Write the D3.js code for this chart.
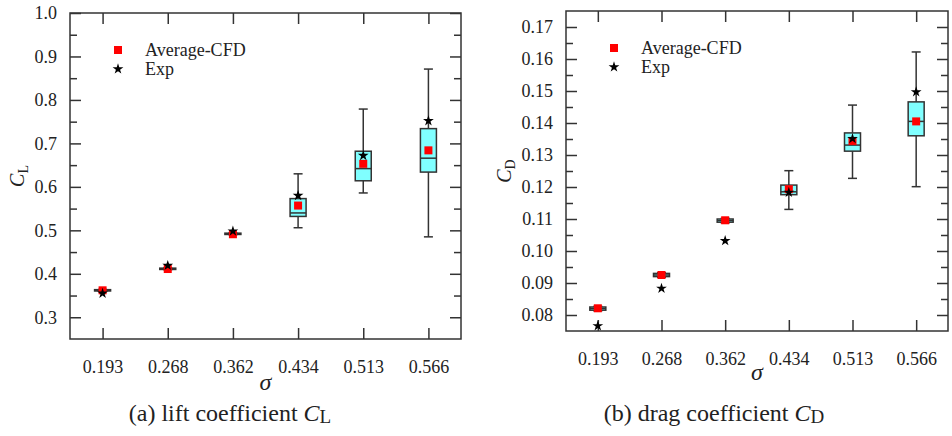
<!DOCTYPE html>
<html>
<head>
<meta charset="utf-8">
<script src="https://cdn.jsdelivr.net/npm/d3@7"></script>
<style>
  body { margin: 0; background: #fff; }
  svg text { font-family: "Liberation Serif", "Times New Roman", Times, serif; fill: #222; }
</style>
</head>
<body>
<div id="chart"></div>
<script>
// cavitation numbers on x
const sigmaLabels = ['0.193', '0.268', '0.362', '0.434', '0.513', '0.566'];

// lift coefficient box stats
const clLow  = [0.3600, 0.4095, 0.4900, 0.506, 0.586, 0.485];
const clQ1   = [0.3605, 0.4100, 0.4905, 0.532, 0.614, 0.634];
const clMed  = [0.3620, 0.4115, 0.4920, 0.540, 0.642, 0.666];
const clQ3   = [0.3635, 0.4130, 0.4935, 0.573, 0.682, 0.734];
const clHigh = [0.3640, 0.4135, 0.4940, 0.630, 0.779, 0.871];
const clAvg  = [0.362, 0.411, 0.491, 0.557, 0.653, 0.684];
const clExp  = [0.355, 0.419, 0.498, 0.580, 0.672, 0.752];

// drag coefficient box stats
const cdLow  = [0.0813, 0.0918, 0.1088, 0.1130, 0.1227, 0.1201];
const cdQ1   = [0.0815, 0.0920, 0.1090, 0.1176, 0.1312, 0.1360];
const cdMed  = [0.0820, 0.0925, 0.1095, 0.1185, 0.1331, 0.1405];
const cdQ3   = [0.0825, 0.0930, 0.1100, 0.1206, 0.1369, 0.1466];
const cdHigh = [0.0827, 0.0932, 0.1102, 0.1251, 0.1456, 0.1622];
const cdAvg  = [0.0821, 0.0925, 0.1096, 0.1193, 0.1344, 0.1405];
const cdExp  = [0.0766, 0.0883, 0.1032, 0.1183, 0.1351, 0.1497];

const clTicks = [0.3, 0.4, 0.5, 0.6, 0.7, 0.8, 0.9, 1.0];
const clMinor = [0.35, 0.45, 0.55, 0.65, 0.75, 0.85, 0.95];
const cdTicks = [0.08, 0.09, 0.10, 0.11, 0.12, 0.13, 0.14, 0.15, 0.16, 0.17];
const cdMinor = [0.085, 0.095, 0.105, 0.115, 0.125, 0.135, 0.145, 0.155, 0.165];

const serif = '"Liberation Serif", "Times New Roman", Times, serif';

const svg = d3.select('#chart').append('svg')
    .attr('width', 952)
    .attr('height', 436);

function drawPanel(p) {
    const x = d3.scalePoint()
        .domain(sigmaLabels)
        .range([p.left, p.right])
        .padding(0.5);

    const y = d3.scaleLinear()
        .domain(p.domain)
        .range([p.bottom, p.top]);

    const g = svg.append('g');
    const ink = '#333';

    // frame
    g.append('rect')
        .attr('x', p.left).attr('y', p.top)
        .attr('width', p.right - p.left).attr('height', p.bottom - p.top)
        .attr('fill', 'none').attr('stroke', ink).attr('stroke-width', 1.5);

    // y axes (left labelled, right mirror), ticks inward
    const yl = d3.axisLeft(y).tickValues(p.ticks).tickSize(-11).tickPadding(13)
        .tickFormat(p.fmt);
    const yr = d3.axisRight(y).tickValues(p.ticks).tickSize(-11).tickFormat('');
    const ylm = d3.axisLeft(y).tickValues(p.minor).tickSize(-7).tickFormat('');
    const yrm = d3.axisRight(y).tickValues(p.minor).tickSize(-7).tickFormat('');

    g.append('g').attr('transform', `translate(${p.left},0)`).call(yl);
    g.append('g').attr('transform', `translate(${p.left},0)`).call(ylm);
    g.append('g').attr('transform', `translate(${p.right},0)`).call(yr);
    g.append('g').attr('transform', `translate(${p.right},0)`).call(yrm);

    // x axes
    const xb = d3.axisBottom(x).tickSize(-11).tickPadding(21);
    const xt = d3.axisTop(x).tickSize(-11).tickFormat('');
    g.append('g').attr('transform', `translate(0,${p.bottom})`).call(xb);
    g.append('g').attr('transform', `translate(0,${p.top})`).call(xt);

    g.selectAll('.domain').remove();
    g.selectAll('g').attr('font-family', null);
    g.selectAll('.tick line').attr('stroke', ink).attr('stroke-width', 1.5);
    g.selectAll('.tick text')
        .style('font-family', serif)
        .style('font-size', '18px')
        .attr('fill', '#222');

    // boxes
    const rows = sigmaLabels.map((s, i) => ({
        s, low: p.low[i], q1: p.q1[i], med: p.med[i], q3: p.q3[i], high: p.high[i],
        avg: p.avg[i], exp: p.exp[i]
    }));
    const bw = 16, cw = 9;

    const box = g.selectAll('.box').data(rows).enter().append('g').attr('class', 'box');
    box.append('line')
        .attr('x1', d => x(d.s)).attr('x2', d => x(d.s))
        .attr('y1', d => y(d.high)).attr('y2', d => y(d.low))
        .attr('stroke', ink).attr('stroke-width', 1.5);
    box.append('line')
        .attr('x1', d => x(d.s) - cw / 2).attr('x2', d => x(d.s) + cw / 2)
        .attr('y1', d => y(d.high)).attr('y2', d => y(d.high))
        .attr('stroke', ink).attr('stroke-width', 1.5);
    box.append('line')
        .attr('x1', d => x(d.s) - cw / 2).attr('x2', d => x(d.s) + cw / 2)
        .attr('y1', d => y(d.low)).attr('y2', d => y(d.low))
        .attr('stroke', ink).attr('stroke-width', 1.5);
    box.append('rect')
        .attr('x', d => x(d.s) - bw / 2)
        .attr('y', d => y(d.q3))
        .attr('width', bw)
        .attr('height', d => y(d.q1) - y(d.q3))
        .attr('fill', '#80ffff').attr('stroke', ink).attr('stroke-width', 1.5);
    box.append('line')
        .attr('x1', d => x(d.s) - bw / 2).attr('x2', d => x(d.s) + bw / 2)
        .attr('y1', d => y(d.med)).attr('y2', d => y(d.med))
        .attr('stroke', ink).attr('stroke-width', 1.5);

    // averages
    g.selectAll('.avg').data(rows).enter().append('rect')
        .attr('class', 'avg')
        .attr('x', d => x(d.s) - 4).attr('y', d => y(d.avg) - 4)
        .attr('width', 8).attr('height', 8)
        .attr('fill', '#ff0000');

    // experiment
    const star = d3.symbol().type(d3.symbolStar).size(36);
    g.selectAll('.exp').data(rows).enter().append('path')
        .attr('class', 'exp')
        .attr('transform', d => `translate(${x(d.s)},${y(d.exp)})`)
        .attr('d', star)
        .attr('fill', '#000');

    // legend
    const lx = p.left + 48, ly = p.top + 37;
    g.append('rect').attr('x', lx - 4).attr('y', ly - 4).attr('width', 8).attr('height', 8)
        .attr('fill', '#ff0000');
    g.append('path').attr('transform', `translate(${lx},${ly + 19})`).attr('d', star)
        .attr('fill', '#000');
    g.append('text').attr('x', lx + 27).attr('y', ly).attr('dy', '0.35em')
        .style('font-size', '18px').text('Average-CFD');
    g.append('text').attr('x', lx + 27).attr('y', ly + 19).attr('dy', '0.35em')
        .style('font-size', '18px').text('Exp');

    // x title
    g.append('text')
        .attr('x', (p.left + p.right) / 2).attr('y', p.bottom + p.sigmaDy)
        .attr('dy', '0.35em')
        .attr('text-anchor', 'middle')
        .style('font-size', '24px').style('font-style', 'italic')
        .text('σ');

    // y title
    const yt = g.append('text')
        .attr('transform', `translate(${p.left - p.yTitleDx},${(p.top + p.bottom) / 2}) rotate(-90)`)
        .attr('text-anchor', 'middle')
        .attr('dy', '0.35em')
        .style('font-size', '20px');
    yt.append('tspan').style('font-style', 'italic').text('C');
    yt.append('tspan').attr('dy', 4).style('font-size', '14px').text(p.sub);

    // caption
    const cap = g.append('text')
        .attr('x', p.capX).attr('y', 421)
        .attr('text-anchor', 'middle')
        .style('font-size', '24px');
    cap.append('tspan').text(p.caption + ' ');
    cap.append('tspan').style('font-style', 'italic').text('C');
    cap.append('tspan').attr('dy', 2).style('font-size', '19px').text(p.sub);
}

drawPanel({
    left: 70, right: 461, top: 13, bottom: 339,
    domain: [0.25, 1.0], ticks: clTicks, minor: clMinor, fmt: d3.format('.1f'),
    low: clLow, q1: clQ1, med: clMed, q3: clQ3, high: clHigh, avg: clAvg, exp: clExp,
    sigmaDy: 43, yTitleDx: 53, sub: 'L', caption: '(a) lift coefficient', capX: 230
});

drawPanel({
    left: 566, right: 948, top: 11, bottom: 331,
    domain: [0.075, 0.175], ticks: cdTicks, minor: cdMinor, fmt: d3.format('.2f'),
    low: cdLow, q1: cdQ1, med: cdMed, q3: cdQ3, high: cdHigh, avg: cdAvg, exp: cdExp,
    sigmaDy: 41, yTitleDx: 62, sub: 'D', caption: '(b) drag coefficient', capX: 714
});
</script>
</body>
</html>
